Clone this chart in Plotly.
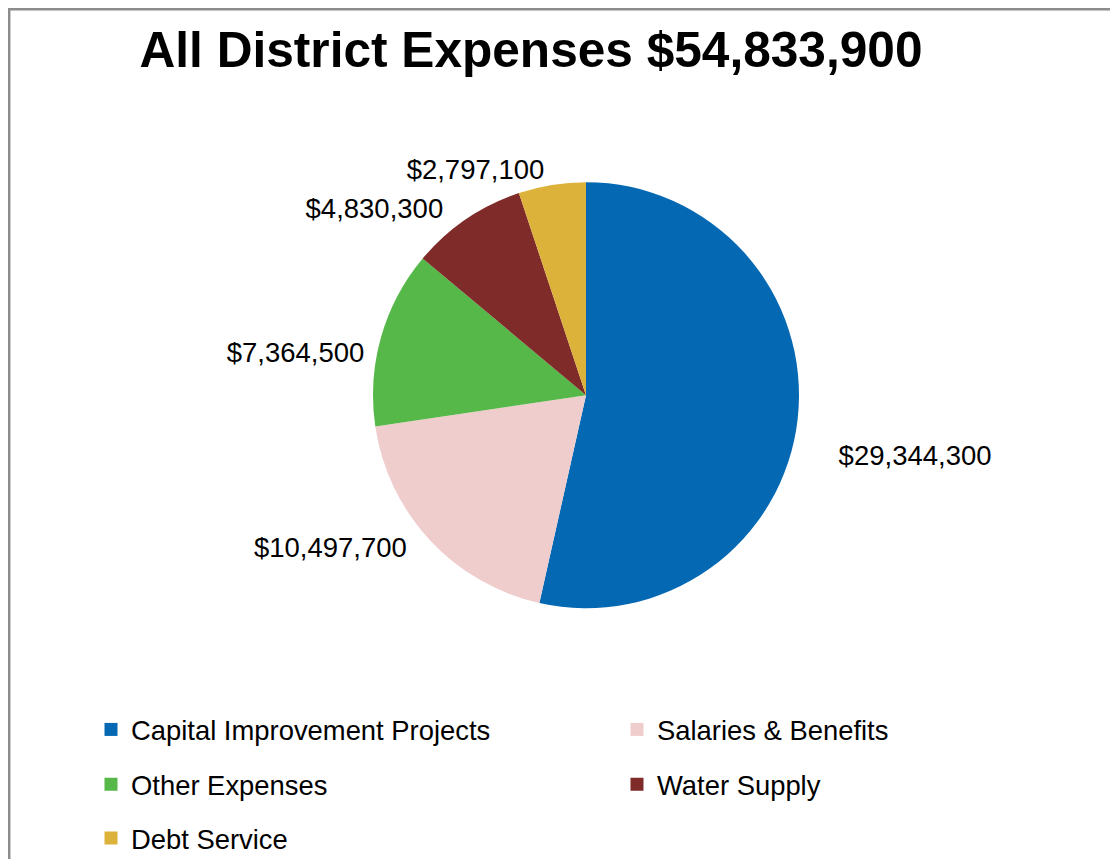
import plotly.graph_objects as go

# Expense categories and amounts (USD)
categories = [
    'Capital Improvement Projects',
    'Salaries & Benefits',
    'Other Expenses',
    'Water Supply',
    'Debt Service',
]
amounts = [29344300, 10497700, 7364500, 4830300, 2797100]
slice_colors = ['#0468B2', '#F0CDCD', '#56B848', '#7E2B2A', '#DDB23B']

# legend layout: which legend row each category sits in
legend_rows = ['legend', 'legend', 'legend2', 'legend2', 'legend3']

# page body has an 8px margin, so the figure is a bit smaller than the window
W, H = 1110, 855
total = sum(amounts)

# outside labels: blank padding nudges them away from the pie like the original
pad = '\u00a0'
label_tpl = [
    pad + '<br>' + pad + '<br>' + pad * 2 + '$%{value:,.0f}',
    '$%{value:,.0f}' + pad * 2,
    pad + '<br>$%{value:,.0f}',
    '$%{value:,.0f}' + pad * 2,
    '$%{value:,.0f}',
]

fig = go.Figure()

fig.add_trace(
    go.Pie(
        labels=categories,
        values=amounts,
        sort=False,
        direction='clockwise',
        rotation=0,
        marker=dict(colors=slice_colors, line=dict(width=0)),
        textposition='outside',
        texttemplate=label_tpl,
        textfont=dict(family='Liberation Sans, Arial', size=27.5, color='#000000'),
        domain=dict(x=[364 / W, 792 / W], y=[1 - 603 / H, 1 - 175 / H]),
        showlegend=False,
        hoverinfo='label+value+percent',
    )
)

# Legend entries (two per row, like the original chart)
for i, (name, color, lg) in enumerate(zip(categories, slice_colors, legend_rows)):
    fig.add_trace(
        go.Scatter(
            x=[None], y=[None],
            mode='markers',
            name=name,
            marker=dict(symbol='square', size=13, color=color, line=dict(width=0)),
            legend=lg,
            legendwidth=481 if i % 2 == 0 else None,
            hoverinfo='skip',
        )
    )

legend_style = dict(
    orientation='h',
    xanchor='left',
    yanchor='middle',
    x=83 / W,
    bgcolor='rgba(0,0,0,0)',
    borderwidth=0,
    font=dict(family='Liberation Sans, Arial', size=27.4, color='#000000'),
)

fig.update_layout(
    width=W,
    height=H,
    paper_bgcolor='white',
    plot_bgcolor='white',
    margin=dict(l=0, r=0, t=0, b=0),
    title=dict(
        text=f'All District Expenses ${total:,}',
        x=523 / W,
        xanchor='center',
        y=1 - 42 / H,
        yanchor='middle',
        font=dict(family='Liberation Sans, Arial', size=49.6, color='#000000', weight='bold'),
    ),
    legend=dict(legend_style, y=1 - 725 / H),
    legend2=dict(legend_style, y=1 - 780 / H),
    legend3=dict(legend_style, y=1 - 834 / H),
    xaxis=dict(visible=False),
    yaxis=dict(visible=False),
    shapes=[
        dict(type='line', xref='paper', yref='paper',
             x0=0, x1=1, y0=1 - 1.2 / H, y1=1 - 1.2 / H,
             line=dict(color='#8C8C8C', width=2.5)),
        dict(type='line', xref='paper', yref='paper',
             x0=1.2 / W, x1=1.2 / W, y0=0, y1=1,
             line=dict(color='#8C8C8C', width=2.5)),
    ],
)

fig.write_html('out.html')
